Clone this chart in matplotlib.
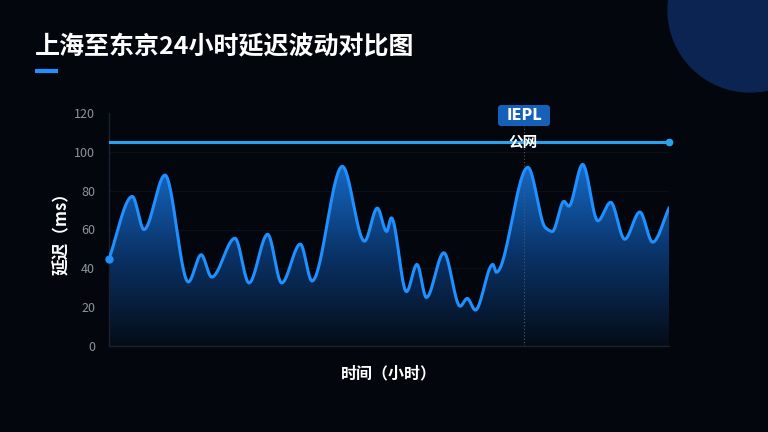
import numpy as np
import matplotlib.pyplot as plt
from matplotlib.patches import Circle, FancyBboxPatch, Polygon
from matplotlib.colors import LinearSegmentedColormap

plt.rcParams['font.family'] = ['Noto Sans CJK SC', 'DejaVu Sans']

# 数据：读图得到的时间（小时）与延迟（ms）
hours = [0.0, 1.0, 1.5, 2.4, 3.4, 3.95, 4.4, 5.4, 6.0, 6.8, 7.4, 8.2, 8.7,
         10.0, 10.95, 11.5, 11.9, 12.1, 12.75, 13.2, 13.6, 14.35, 15.05, 15.35,
         15.7, 16.45, 16.6, 17.95, 18.7, 19.0, 19.5, 19.7, 20.3, 20.95, 21.5,
         22.1, 22.75, 23.3, 24.0]
iepl = [45, 77, 60, 88, 33, 47, 35.5, 55.5, 32.5, 57.5, 32.5, 52.5, 33.5,
        92.5, 54, 71, 59, 66, 28, 42, 25, 48, 20.5, 24.5,
        18.5, 42, 38, 92, 61, 59, 74.5, 72, 93.5, 64.5, 74,
        55, 69, 53.5, 71]
gongwang = [105, 105]
gongwang_x = [0, 24]
hover_hour = 17.8
yticks = [0, 20, 40, 60, 80, 100, 120]


def pchip(x, y, xs):
    x = np.asarray(x, float)
    y = np.asarray(y, float)
    h = np.diff(x)
    d = np.diff(y) / h
    m = np.zeros_like(y)
    for i in range(1, len(y) - 1):
        if d[i - 1] * d[i] > 0:
            w1 = 2 * h[i] + h[i - 1]
            w2 = h[i] + 2 * h[i - 1]
            m[i] = (w1 + w2) / (w1 / d[i - 1] + w2 / d[i])
    m[0] = d[0]
    m[-1] = d[-1]
    idx = np.clip(np.searchsorted(x, xs) - 1, 0, len(h) - 1)
    t = (xs - x[idx]) / h[idx]
    h00 = 2 * t**3 - 3 * t**2 + 1
    h10 = t**3 - 2 * t**2 + t
    h01 = -2 * t**3 + 3 * t**2
    h11 = t**3 - t**2
    return h00 * y[idx] + h10 * h[idx] * m[idx] + h01 * y[idx + 1] + h11 * h[idx] * m[idx + 1]


fig = plt.figure(figsize=(7.68, 4.32), dpi=100)
fig.patch.set_facecolor('#03060c')

# 背景圆
bg = fig.add_axes([0, 0, 1, 1])
bg.set_xlim(0, 768)
bg.set_ylim(432, 0)
bg.axis('off')
bg.add_patch(Circle((750, 10), 82, color='#0b2452'))

ax = fig.add_axes([109 / 768, 1 - 346 / 432, 560 / 768, (346 - 113) / 432])
ax.set_facecolor('none')
ax.set_xlim(0, 24)
ax.set_ylim(0, 120)

xs = np.linspace(0, 24, 1200)
ys = pchip(hours, iepl, xs)

# 渐变填充
grad = np.linspace(0, 1, 256).reshape(-1, 1)
cmap = LinearSegmentedColormap.from_list('g', ['#050c18', '#0a3368', '#166bc8'])
im = ax.imshow(grad, extent=[0, 24, 0, 95], origin='lower', aspect='auto',
               cmap=cmap, zorder=1)
poly = Polygon(np.column_stack([np.r_[xs, 24, 0], np.r_[ys, 0, 0]]),
               closed=True, fc='none', ec='none', transform=ax.transData)
ax.add_patch(poly)
im.set_clip_path(poly)

ax.plot(xs, ys, color='#1e90ff', lw=2.2, zorder=3)
ax.plot([hours[0]], [iepl[0]], 'o', color='#1e90ff', ms=5, zorder=4, clip_on=False)
ax.plot(gongwang_x, gongwang, color='#29a3f0', lw=2.2, zorder=3)
ax.plot([gongwang_x[-1]], [gongwang[-1]], 'o', color='#29a3f0', ms=4.5, zorder=4, clip_on=False)

ax.axvline(hover_hour, color='#4a5a70', lw=0.8, ls=(0, (1, 2)), zorder=2)

for v in yticks[1:-1]:
    ax.axhline(v, color='#0a111c', lw=0.8, zorder=0)

for s in ['top', 'right']:
    ax.spines[s].set_visible(False)
for s in ['left', 'bottom']:
    ax.spines[s].set_color('#1a2230')
    ax.spines[s].set_linewidth(1)
ax.set_xticks([])
ax.set_yticks(yticks)
ax.tick_params(axis='y', length=0, colors='#8f949c', labelsize=9, pad=10)
ax.set_ylabel('延迟（ms）', color='white', fontsize=12, fontweight='bold', labelpad=2)
ax.set_xlabel('时间（小时）', color='white', fontsize=11.5, fontweight='bold', labelpad=14)

# 图例标签（叠加层）
top = fig.add_axes([0, 0, 1, 1])
top.set_xlim(0, 768)
top.set_ylim(432, 0)
top.axis('off')
top.patch.set_alpha(0)
top.add_patch(FancyBboxPatch((498, 105), 52, 21, boxstyle='round,pad=0,rounding_size=3',
                             fc='#1560b8', ec='none', zorder=5))
top.text(524, 116, 'IEPL', color='white', fontsize=10.5, fontweight='bold',
         family='DejaVu Sans', ha='center', va='center', zorder=6)
top.text(523, 142, '公网', color='white', fontsize=10.5, fontweight='bold',
         ha='center', va='center', zorder=6)

# 标题
top.text(35, 47, '上海至东京24小时延迟波动对比图', color='white', fontsize=18,
         fontweight='bold', ha='left', va='center')
top.plot([35, 58], [71, 71], color='#1e90ff', lw=3, solid_capstyle='butt')

fig.savefig('out.png', dpi=100, facecolor=fig.get_facecolor())
